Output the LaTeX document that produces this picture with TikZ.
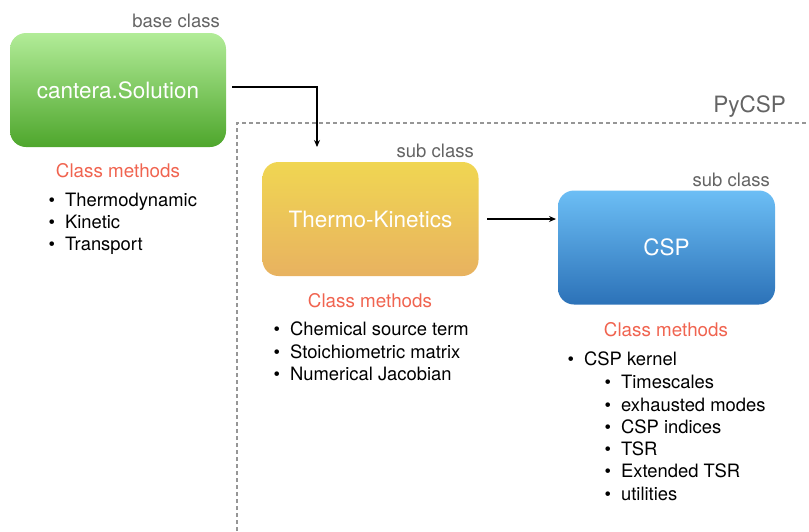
\documentclass[tikz,border=0pt]{standalone}
\usepackage{fontspec}
\setmainfont{TeX Gyre Heros}
\usetikzlibrary{arrows.meta}
\definecolor{gtop}{RGB}{178,236,152}
\definecolor{gbot}{RGB}{78,166,44}
\definecolor{ytop}{RGB}{240,214,82}
\definecolor{ybot}{RGB}{232,178,96}
\definecolor{btop}{RGB}{108,190,245}
\definecolor{bbot}{RGB}{44,114,184}
\definecolor{methred}{RGB}{240,100,80}
\definecolor{labgray}{RGB}{100,100,100}
\definecolor{dashgray}{RGB}{150,150,150}
\tikzset{
  classbox/.style={rounded corners=16pt, minimum width=216pt, minimum height=114pt, inner sep=0pt,
    text=white, font=\fontsize{22.5}{25}\selectfont},
  tag/.style={anchor=base east, inner sep=0pt, text=labgray, font=\fontsize{18.5}{21}\selectfont},
  methods/.style={inner sep=0pt, text=methred, font=\fontsize{18.8}{22}\selectfont},
  item/.style={anchor=base west, inner sep=0pt, font=\fontsize{18.4}{21}\selectfont},
  conn/.style={line width=1.3pt, -{Stealth[length=7pt,width=6pt]}},
}
\begin{document}
\begin{tikzpicture}[x=1pt,y=-1pt]
\useasboundingbox (0,0) rectangle (809,531);
% dashed PyCSP frame
\draw[dashgray, line width=1.6pt, dash pattern=on 4pt off 3pt] (237,531) -- (237,123) -- (809,123);
\node[anchor=base east, inner sep=0pt, text=labgray, font=\fontsize{22.5}{25}\selectfont] (pycsp) at (786,112) {PyCSP};

% boxes
\node[classbox, top color=gtop, bottom color=gbot] (sol) at (118,90) {cantera.Solution};
\node[classbox, top color=ytop, bottom color=ybot] (tk) at (370.5,219) {Thermo-Kinetics};
\node[classbox, top color=btop, bottom color=bbot, minimum width=217pt] (csp) at (666.5,247.5) {CSP};

% tags
\node[tag] (t1) at (220,27) {base class};
\node[tag] (t2) at (474,157) {sub class};
\node[tag] (t3) at (770,186) {sub class};

% connectors
\coordinate (a1s) at (232,87);
\coordinate (a1e) at (317,147);
\draw[conn] (a1s) -| (a1e);
\coordinate (a2s) at (487,219);
\coordinate (a2e) at (556,219);
\draw[conn] (a2s) -- (a2e);

% methods
\node[methods] (m1) at (118,171) {Class methods};
\node[methods] (m2) at (370,301) {Class methods};
\node[methods] (m3) at (666,330) {Class methods};

% lists
\node[item] (l1a) at (48.5,206) {\textbullet\hspace{10pt}Thermodynamic};
\node[item] (l1b) at (48.5,228) {\textbullet\hspace{10pt}Kinetic};
\node[item] (l1c) at (48.5,250) {\textbullet\hspace{10pt}Transport};

\node[item] (l2a) at (273.5,335) {\textbullet\hspace{10pt}Chemical source term};
\node[item] (l2b) at (273.5,358) {\textbullet\hspace{10pt}Stoichiometric matrix};
\node[item] (l2c) at (273.5,380) {\textbullet\hspace{10pt}Numerical Jacobian};

\node[item] (l3) at (567.5,365) {\textbullet\hspace{10pt}CSP kernel};
\node[item] (l3a) at (604.5,388) {\textbullet\hspace{10pt}Timescales};
\node[item] (l3b) at (604.5,411) {\textbullet\hspace{10pt}exhausted modes};
\node[item] (l3c) at (604.5,433) {\textbullet\hspace{10pt}CSP indices};
\node[item] (l3d) at (604.5,455) {\textbullet\hspace{10pt}TSR};
\node[item] (l3e) at (604.5,477) {\textbullet\hspace{10pt}Extended TSR};
\node[item] (l3f) at (604.5,500) {\textbullet\hspace{10pt}utilities};
\end{tikzpicture}
\end{document}
